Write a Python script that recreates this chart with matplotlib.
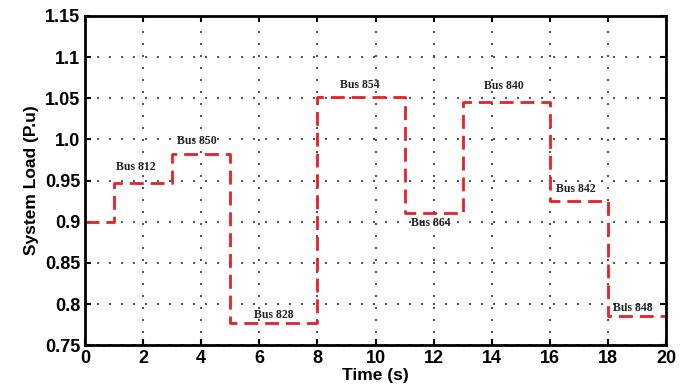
import numpy as np
import matplotlib
matplotlib.use('Agg')
import matplotlib.pyplot as plt

# step profile of system load
t_edges = [0, 1, 3, 5, 8, 11, 13, 16, 18, 20]
load = [0.900, 0.947, 0.982, 0.777, 1.051, 0.910, 1.045, 0.925, 0.785]

bus_names = ['Bus 812', 'Bus 850', 'Bus 828', 'Bus 854', 'Bus 864',
             'Bus 840', 'Bus 842', 'Bus 848']
label_x = [1.75, 3.85, 6.5, 9.45, 11.9, 14.4, 16.9, 18.85]
label_y = [0.966, 0.998, 0.787, 1.066, 0.898, 1.065, 0.940, 0.795]

x = np.repeat(t_edges, 2)[1:-1]
y = np.repeat(load, 2)

plt.rcParams['font.family'] = ['Liberation Sans', 'DejaVu Sans']

fig, ax = plt.subplots(figsize=(6.91, 3.9), dpi=100)
fig.subplots_adjust(left=0.123, right=0.964, top=0.959, bottom=0.115)

ax.plot(x, y, color='#e8202a', lw=2.0, ls=(0, (5, 2.5)))

for name, lx, ly in zip(bus_names, label_x, label_y):
    ax.text(lx, ly, name, ha='center', va='center', fontsize=8.5,
            fontweight='bold', family='Liberation Serif', color='#222222')

ax.set_xlim(0, 20)
ax.set_ylim(0.75, 1.15)
ax.set_xticks(np.arange(0, 21, 2))
yt = [0.75, 0.8, 0.85, 0.9, 0.95, 1.0, 1.05, 1.1, 1.15]
ax.set_yticks(yt)
ax.set_yticklabels(['0.75', '0.8', '0.85', '0.9', '0.95', '1.0', '1.05', '1.1', '1.15'])

ax.grid(True, ls=(0, (1.2, 6)), color='#333333', lw=1.2)
ax.tick_params(direction='in', length=4, width=1.5, labelsize=13,
               top=True, right=True)
for lbl in ax.get_xticklabels() + ax.get_yticklabels():
    lbl.set_fontweight('bold')
for sp in ax.spines.values():
    sp.set_linewidth(2)

ax.set_xlabel('Time (s)', fontsize=12.5, fontweight='bold', labelpad=1)
ax.set_ylabel('System Load (P.u)', fontsize=12.5, fontweight='bold')

fig.savefig('out.png', dpi=100)
